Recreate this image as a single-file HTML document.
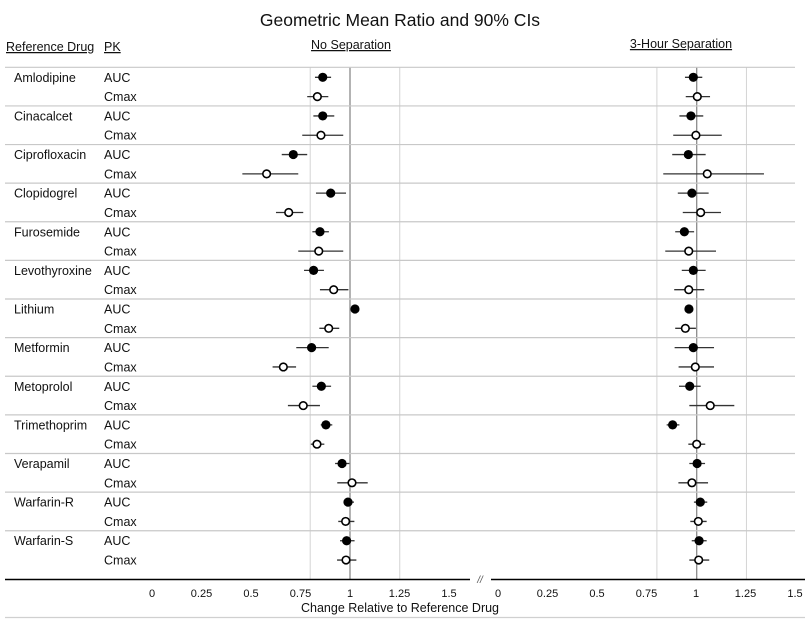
<!DOCTYPE html>
<html><head><meta charset="utf-8"><style>
html,body{margin:0;padding:0;background:#fff;}
svg{display:block;font-family:"Liberation Sans",Arial,sans-serif;}
</style></head><body>
<svg id="chart" width="809" height="629" viewBox="0 0 809 629" xmlns="http://www.w3.org/2000/svg">
<text x="400" y="26" font-size="17.5" text-anchor="middle" fill="#111">Geometric Mean Ratio and 90% CIs</text>
<text x="6" y="51" font-size="12.5" text-decoration="underline" fill="#111">Reference Drug</text>
<text x="104" y="51" font-size="12.5" text-decoration="underline" fill="#111">PK</text>
<text x="351" y="49" font-size="12.5" text-anchor="middle" text-decoration="underline" fill="#111">No Separation</text>
<text x="681" y="48" font-size="12.5" text-anchor="middle" text-decoration="underline" fill="#111">3-Hour Separation</text>
<g id="grid"></g><g id="rows"></g><g id="marks"></g><g id="axis"></g>
</svg>
<script>
const drugs=["Amlodipine","Cinacalcet","Ciprofloxacin","Clopidogrel","Furosemide","Levothyroxine","Lithium","Metformin","Metoprolol","Trimethoprim","Verapamil","Warfarin-R","Warfarin-S"];
const pkTypes=["AUC","Cmax"];
const noSepPoint=[0.863,0.836,0.863,0.854,0.715,0.581,0.903,0.692,0.849,0.843,0.817,0.918,1.025,0.893,0.807,0.665,0.856,0.765,0.879,0.834,0.960,1.010,0.990,0.978,0.983,0.980];
const noSepLo=[0.824,0.785,0.816,0.760,0.657,0.459,0.829,0.628,0.811,0.740,0.769,0.849,1.025,0.846,0.730,0.611,0.811,0.688,0.853,0.803,0.925,0.936,0.971,0.941,0.950,0.935];
const noSepHi=[0.905,0.891,0.921,0.966,0.785,0.740,0.980,0.765,0.894,0.966,0.869,0.992,1.025,0.946,0.893,0.729,0.905,0.849,0.911,0.871,0.997,1.089,1.020,1.022,1.023,1.032];
const sepPoint=[0.983,1.003,0.971,0.996,0.958,1.053,0.976,1.020,0.938,0.960,0.983,0.960,0.961,0.943,0.983,0.993,0.965,1.068,0.879,1.000,1.002,0.976,1.018,1.008,1.012,1.010];
const sepLo=[0.941,0.945,0.913,0.882,0.877,0.832,0.905,0.930,0.892,0.842,0.925,0.887,0.961,0.892,0.889,0.909,0.911,0.963,0.849,0.958,0.963,0.908,0.986,0.968,0.975,0.963];
const sepHi=[1.028,1.067,1.033,1.126,1.045,1.338,1.060,1.122,0.987,1.097,1.045,1.038,0.961,0.996,1.087,1.087,1.020,1.189,0.913,1.043,1.042,1.057,1.053,1.050,1.050,1.063];
const tickValues=[0,0.25,0.5,0.75,1,1.25,1.5];
const refLines=[0.8,1,1.25];

const NS="http://www.w3.org/2000/svg";
function mk(tag,attrs,parent){const e=document.createElementNS(NS,tag);for(const k in attrs)e.setAttribute(k,attrs[k]);parent.appendChild(e);return e;}
const xLeft=v=>350+(v-1)*199;
const xRight=v=>696.7+(v-1)*199;
const labLeft=v=>152+v*198;
const labRight=v=>498+v*198;
const rowY=i=>77.3+i*19.31;
const yTop=67, axisY=579.5;

const grid=document.getElementById('grid');
[[xLeft,'left'],[xRight,'right']].forEach(([sx,side])=>{
  refLines.forEach(v=>{
    const l=mk('line',{x1:sx(v),x2:sx(v),y1:yTop,y2:axisY,stroke:v===1?'#8a8a8a':'#d4d4d4','stroke-width':v===1?1.3:1},grid);
    
    
  });
});
const rows=document.getElementById('rows');
drugs.forEach((d,k)=>{
  const y=rowY(2*k)-10;
  const s=mk('line',{x1:5,x2:795,y1:y,y2:y,stroke:'#c8c8c8','stroke-width':1.2},rows);
  
  
  const t=mk('text',{x:14,y:rowY(2*k)+4.5,'font-size':12.5,fill:'#111'},rows);
  t.textContent=d;
  
  
  pkTypes.forEach((p,j)=>{
    const pt=mk('text',{x:104,y:rowY(2*k+j)+4.5,'font-size':12.5,fill:'#111'},rows);
    pt.textContent=p;
    
    
  });
});
const marks=document.getElementById('marks');
function drawSeries(sx,pts,lo,hi,side){
  pts.forEach((v,i)=>{
    const y=rowY(i);
    const ci=mk('line',{x1:sx(lo[i]),x2:sx(hi[i]),y1:y,y2:y,stroke:'#333','stroke-width':1.3},marks);
    
    
    const filled=i%2===0;
    const c=mk('circle',{cx:sx(v),cy:y,r:filled?4.6:3.8,fill:filled?'#000':'#fff',stroke:'#000','stroke-width':filled?0:1.6},marks);
    
    
  });
}
drawSeries(xLeft,noSepPoint,noSepLo,noSepHi,'no-sep');
drawSeries(xRight,sepPoint,sepLo,sepHi,'sep');

const axis=document.getElementById('axis');
const a1=mk('line',{x1:5,x2:470,y1:axisY,y2:axisY,stroke:'#000','stroke-width':1.5},axis);


const a2=mk('line',{x1:491,x2:805,y1:axisY,y2:axisY,stroke:'#000','stroke-width':1.5},axis);


const br=mk('text',{x:480,y:583,'font-size':10,'font-style':'italic','text-anchor':'middle',fill:'#555'},axis);
br.textContent='//';


[[labLeft,'left'],[labRight,'right']].forEach(([lx,side])=>{
  tickValues.forEach(v=>{
    const t=mk('text',{x:lx(v),y:597,'font-size':11,'text-anchor':'middle',fill:'#111'},axis);
    t.textContent=String(v);
    
    
  });
});
const xt=mk('text',{x:400,y:612,'font-size':12.5,'text-anchor':'middle',fill:'#111'},axis);
xt.textContent='Change Relative to Reference Drug';


const bl=mk('line',{x1:5,x2:805,y1:617.5,y2:617.5,stroke:'#d0d0d0','stroke-width':1.2},axis);


</script>
</body></html>
